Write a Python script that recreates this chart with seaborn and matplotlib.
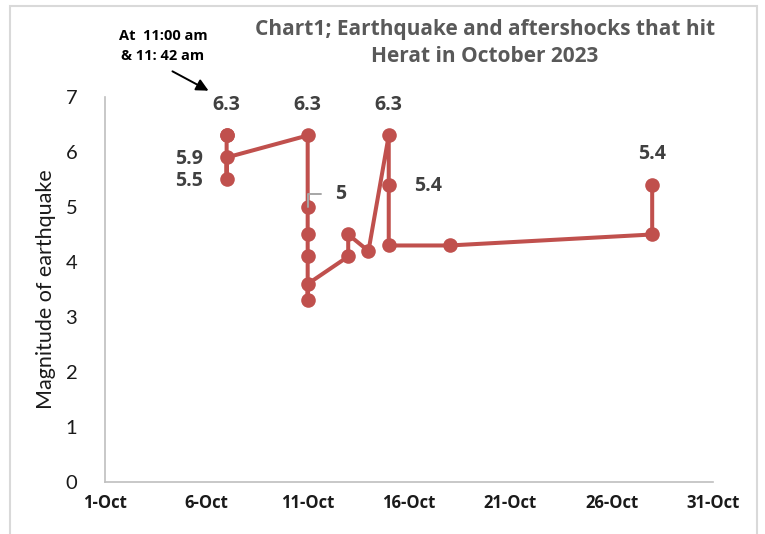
import matplotlib
matplotlib.use("Agg")
import matplotlib.pyplot as plt
import matplotlib.dates as mdates
from matplotlib.patches import Rectangle
import pandas as pd
import seaborn as sns

# Earthquake and aftershock events, in the order they are joined by the line
event_dates = [
    "2023-10-07", "2023-10-07", "2023-10-07", "2023-10-07",
    "2023-10-11", "2023-10-11", "2023-10-11", "2023-10-11", "2023-10-11", "2023-10-11",
    "2023-10-13", "2023-10-13",
    "2023-10-14",
    "2023-10-15", "2023-10-15", "2023-10-15",
    "2023-10-18",
    "2023-10-28", "2023-10-28",
]
magnitudes = [
    6.3, 6.3, 5.5, 5.9,
    6.3, 5.0, 4.5, 4.1, 3.3, 3.6,
    4.1, 4.5,
    4.2,
    6.3, 5.4, 4.3,
    4.3,
    4.5, 5.4,
]
x_tick_dates = ["2023-10-01", "2023-10-06", "2023-10-11", "2023-10-16",
                "2023-10-21", "2023-10-26", "2023-10-31"]
y_ticks = [0, 1, 2, 3, 4, 5, 6, 7]
title_text = "Chart1; Earthquake and aftershocks that hit\nHerat in October 2023"
y_label = "Magnitude of earthquake"
note_text = "At  11:00 am\n& 11: 42 am"

df = pd.DataFrame({"date": pd.to_datetime(event_dates), "magnitude": magnitudes})

sns.set_theme(style="white")
plt.rcParams["font.family"] = ["Open Sans", "DejaVu Sans"]

RED = "#c0504d"
LABEL_GRAY = "#404040"

fig = plt.figure(figsize=(7.65, 5.34), dpi=100)
ax = fig.add_axes([0.1373, 0.0974, 0.932 - 0.1373, 0.8184 - 0.0974])

sns.lineplot(data=df, x="date", y="magnitude", sort=False, estimator=None,
             color=RED, linewidth=2.9, marker="o", markersize=10.5,
             markeredgewidth=0, markerfacecolor=RED, ax=ax)

ax.set_xlim(pd.Timestamp(x_tick_dates[0]), pd.Timestamp(x_tick_dates[-1]))
ax.set_ylim(y_ticks[0], y_ticks[-1])
ax.set_xticks(pd.to_datetime(x_tick_dates))
ax.xaxis.set_major_formatter(mdates.DateFormatter("%-d-%b"))
ax.set_yticks(y_ticks)

for lbl in ax.get_xticklabels():
    lbl.set_fontweight("bold")
    lbl.set_fontsize(12)
    lbl.set_color("#1a1a1a")
for lbl in ax.get_yticklabels():
    lbl.set_family(["Lato", "DejaVu Sans"])
    lbl.set_fontsize(14.5)
    lbl.set_color("#1a1a1a")
ax.tick_params(axis="x", length=0, pad=9)
ax.tick_params(axis="y", length=0, pad=20)

ax.set_xlabel("")
ax.set_ylabel(y_label, family=["Lato", "DejaVu Sans"], fontsize=15.5,
              color="#1a1a1a", labelpad=7)

for side in ["top", "right"]:
    ax.spines[side].set_visible(False)
for side in ["left", "bottom"]:
    ax.spines[side].set_color("#bfbfbf")
    ax.spines[side].set_linewidth(1.2)

# Value labels: (row index, offset in points, horizontal alignment)
value_labels = [
    (0, (0, 22), "center"),
    (3, (-27, -1), "center"),
    (2, (-27, -1), "center"),
    (4, (0, 22), "center"),
    (13, (0, 22), "center"),
    (14, (28, -1), "center"),
    (18, (0, 22), "center"),
]
for idx, offset, ha in value_labels:
    ax.annotate(f"{df.magnitude[idx]:g}", (df.date[idx], df.magnitude[idx]),
                xytext=offset, textcoords="offset points", ha=ha, va="center",
                fontsize=14, fontweight="bold", color=LABEL_GRAY)

# Label with a leader line for the 5.0 aftershock
ax.annotate(f"{df.magnitude[5]:g}", (df.date[5], df.magnitude[5]),
            xytext=(20, 9), textcoords="offset points", ha="left", va="center",
            fontsize=14, fontweight="bold", color=LABEL_GRAY,
            arrowprops=dict(arrowstyle="-", color="#a6a6a6", lw=1.4,
                            connectionstyle="angle,angleA=0,angleB=90,rad=0",
                            shrinkA=8, shrinkB=0))

fig.text(0.634, 0.920, title_text, ha="center", va="center", fontsize=15,
         fontweight="bold", color="#595959", linespacing=1.35)

fig.text(0.213, 0.914, note_text, ha="center", va="center", fontsize=10.5,
         fontweight="bold", color="black", linespacing=1.5)
fig.add_artist(matplotlib.patches.FancyArrowPatch(
    (170 / 765, 1 - 70 / 534), (211 / 765, 1 - 92 / 534),
    transform=fig.transFigure, arrowstyle="-|>", mutation_scale=18,
    color="black", lw=1.4))

fig.add_artist(Rectangle((10 / 765, -0.02), (757 - 10) / 765, 1 - 6 / 534 + 0.02,
                         transform=fig.transFigure, fill=False,
                         edgecolor="#d9d9d9", linewidth=1.5))

fig.savefig("out.png", dpi=100)
